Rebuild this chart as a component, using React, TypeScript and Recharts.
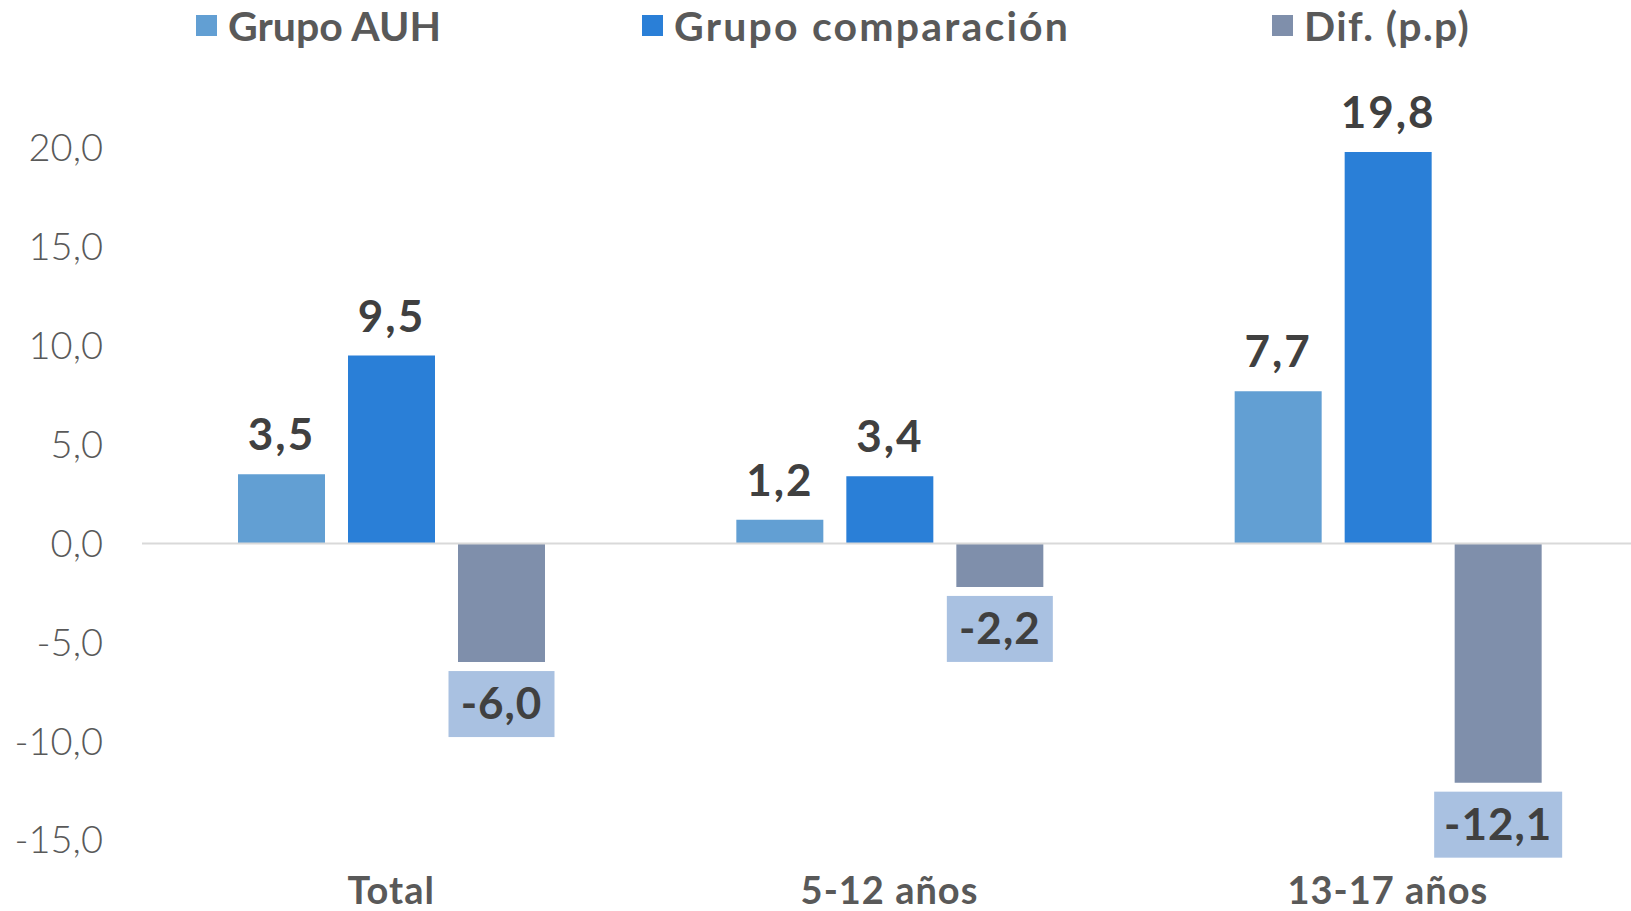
import React from "react";
import { BarChart, Bar, XAxis, YAxis, ReferenceLine, LabelList } from "recharts";

const categories = ["Total", "5-12 años", "13-17 años"];
const grupoAUH = [3.5, 1.2, 7.7];
const grupoComparacion = [9.5, 3.4, 19.8];
const diferencia = [-6.0, -2.2, -12.1];
const yTicks = [-15, -10, -5, 0, 5, 10, 15, 20];

const series = [
  { key: "auh", name: "Grupo AUH", color: "#629fd3" },
  { key: "comp", name: "Grupo comparación", color: "#2a7fd7" },
  { key: "dif", name: "Dif. (p.p)", color: "#7f8fab" },
];

// legend item left edges (layout only)
const legendLeft = [196, 642, 1272];

const data = categories.map((c, i) => ({
  cat: c,
  auh: grupoAUH[i],
  comp: grupoComparacion[i],
  dif: diferencia[i],
}));

const FONT = "Lato, 'Open Sans', sans-serif";
const fmt = (v: number) => v.toFixed(1).replace(".", ",");

function ValueLabel(props: any) {
  const { x, y, width, height, value } = props;
  const cx = x + width / 2;
  const top0 = Math.min(y, y + height);
  const bottom = Math.max(y, y + height);
  if (value >= 0) {
    return (
      <text
        x={cx}
        y={top0 - 24}
        textAnchor="middle"
        fontFamily={FONT}
        fontWeight={700}
        fontSize={44}
        letterSpacing={2}
        fill="#404040"
      >
        {fmt(value)}
      </text>
    );
  }
  const text = fmt(value);
  const boxW = text.length * 22 + 18;
  const boxH = 66;
  const top = bottom + 9;
  return (
    <g>
      <rect x={cx - boxW / 2} y={top} width={boxW} height={boxH} fill="#a9c1e1" />
      <text
        x={cx}
        y={top + boxH / 2 + 15}
        textAnchor="middle"
        fontFamily={FONT}
        fontWeight={700}
        fontSize={44}
        letterSpacing={1}
        fill="#404040"
      >
        {text}
      </text>
    </g>
  );
}

export default function App() {
  return (
    <div
      style={{
        position: "absolute",
        left: 0,
        top: 0,
        width: 1631,
        height: 911,
        overflow: "hidden",
        background: "#fff",
      }}
    >
      {series.map((s, i) => (
        <div
          key={s.key}
          style={{
            position: "absolute",
            left: legendLeft[i],
            top: 1,
            display: "flex",
            alignItems: "center",
            gap: 11,
            fontFamily: FONT,
            fontWeight: 700,
            fontSize: 41,
            letterSpacing: i === 0 ? 0 : i === 1 ? 2.2 : 1.4,
            color: "#595959",
            whiteSpace: "nowrap",
          }}
        >
          <span style={{ width: 21, height: 21, background: s.color, display: "inline-block" }} />
          <span>{s.name}</span>
        </div>
      ))}
      <BarChart
        width={1640}
        height={911}
        data={data}
        margin={{ top: 148, right: 3, left: 0, bottom: 0 }}
        barSize={87}
        barGap={23}
      >
        <XAxis
          dataKey="cat"
          axisLine={false}
          tickLine={false}
          height={71}
          tickSize={0}
          tickMargin={37}
          tick={{ fontFamily: FONT, fontWeight: 700, fontSize: 38, fill: "#595959", letterSpacing: 1 }}
        />
        <YAxis
          domain={[-15, 20]}
          ticks={yTicks}
          width={142}
          axisLine={false}
          tickLine={false}
          tickSize={0}
          tickMargin={39}
          tickFormatter={fmt}
          tick={{ fontFamily: FONT, fontWeight: 300, fontSize: 38, fill: "#595959" }}
        />
        <ReferenceLine y={0} stroke="#d9d9d9" strokeWidth={2} />
        {series.map((s) => (
          <Bar key={s.key} dataKey={s.key} name={s.name} fill={s.color} isAnimationActive={false}>
            <LabelList dataKey={s.key} content={<ValueLabel />} />
          </Bar>
        ))}
      </BarChart>
    </div>
  );
}
